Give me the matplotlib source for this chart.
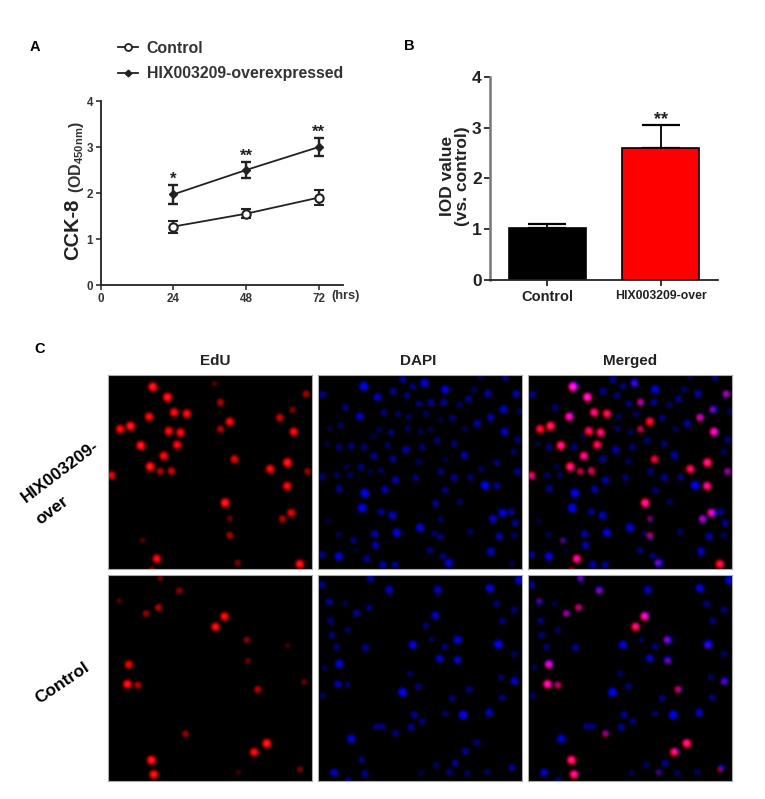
import numpy as np
import matplotlib
matplotlib.use("Agg")
import matplotlib.pyplot as plt
from matplotlib.lines import Line2D

plt.rcParams["font.family"] = ["Liberation Sans", "DejaVu Sans"]
plt.rcParams["font.weight"] = "bold"
plt.rcParams["mathtext.fontset"] = "custom"
plt.rcParams["mathtext.rm"] = "Liberation Sans:bold"
plt.rcParams["mathtext.default"] = "regular"

#panel A
hours = [24, 48, 72]
control_od = [1.27, 1.55, 1.90]
control_err = [0.13, 0.10, 0.17]
over_od = [1.97, 2.50, 3.00]
over_err = [0.20, 0.17, 0.20]
od_stars = ["*", "**", "**"]
hour_ticks = [0, 24, 48, 72]
od_ticks = [0, 1, 2, 3, 4]

#panel B
groups = ["Control", "HIX003209-over"]
iod = [1.02, 2.60]
iod_err = [0.08, 0.44]
bar_colors = ["#000000", "#ff0000"]
iod_ticks = [0, 1, 2, 3, 4]

#panel C, spots: x, y, brightness
columns = ["EdU", "DAPI", "Merged"]
edu_top = [(158,52,1),(202,83,1),(222,128,.9),(260,132,.9),(147,141,.9),(60,178,.9),(91,169,1),
           (206,184,.9),(241,188,.9),(122,227,1),(231,225,.9),(191,258,.9),(150,290,1),(180,304,.6),
           (214,303,.7),(34,316,.8),(361,98,.6),(343,42,.25),(389,156,.9),(361,178,.6),(403,268,.8),
           (375,398,1),(389,445,.35),(389,495,.55),(413,577,.4),(170,565,.9),(127,510,.25),(618,73,.55),
           (577,120,.4),(539,144,.7),(581,186,.9),(562,278,1),(510,297,.9),(622,304,.5),(561,348,.9),
           (573,428,.8),(547,446,.6),(599,581,.95),(155,598,.4)]
dapi_top = [(146,50,1),(263,30,.6),(293,50,.5),(328,40,.9),(390,60,.9),(22,75,.6),(187,82,.8),(234,65,.6),
            (275,78,.5),(477,60,.4),(518,72,.7),(603,73,.7),(570,25,.5),(495,22,.3),(90,113,.5),(311,102,.5),
            (347,98,.6),(386,98,.6),(460,88,.6),(433,105,.4),(565,119,.8),(615,125,.4),(134,140,.8),(206,128,.5),
            (248,132,.4),(280,142,.4),(333,133,.4),(412,145,.5),(526,143,.7),(486,162,.7),(42,175,.25),(77,167,.4),
            (192,180,.35),(228,188,.5),(277,176,.4),(316,186,.35),(346,180,.3),(375,150,.25),(450,178,.35),(568,186,.8),
            (175,200,.3),(366,212,.5),(417,222,.5),(608,210,.5),(35,222,.25),(71,232,.5),(108,228,.5),(147,232,.5),
            (218,225,.4),(272,240,.7),(322,232,.5),(448,256,.7),(596,245,.4),(177,258,.6),(233,267,.6),(310,275,.4),
            (390,268,.3),(545,278,.5),(137,291,.5),(95,290,.3),(65,315,.4),(104,315,.4),(165,305,.3),(198,302,.4),
            (376,305,.5),(498,297,.4),(608,305,.6),(20,320,.5),(241,330,.7),(301,323,.5),(417,323,.6),(466,322,.5),
            (72,356,.6),(149,369,1),(209,358,.7),(390,360,.5),(510,346,1),(545,347,.6),(361,400,.6),(434,395,.4),
            (141,413,1),(198,425,.6),(232,435,.8),(562,428,.9),(587,425,.6),(533,446,.8),(376,447,.4),(40,452,.25),
            (600,458,.6),(314,472,.9),(245,487,.9),(178,491,.7),(358,490,.4),(376,500,.5),(465,484,.4),(552,498,.7),
            (70,493,.35),(115,510,.5),(181,525,.7),(597,495,.4),(344,540,.5),(527,543,.8),(20,553,.6),(71,558,.9),
            (155,565,.6),(383,557,.5),(401,577,.9),(203,583,.7),(240,583,.6),(122,540,.2),(590,580,.3)]
edu_bottom = [(181,22,.35),(237,60,.45),(57,90,.25),(175,110,.6),(138,128,.5),(373,137,.9),(346,168,.9),
              (440,207,.45),(562,225,.2),(443,270,.35),(86,281,.8),(82,340,.95),(113,343,.6),(612,333,.3),
              (473,356,.6),(256,489,.5),(500,518,1),(462,544,.9),(154,568,1),(161,611,.95),(600,596,.4),(415,605,.2)]
dapi_bottom = [(166,22,.7),(20,42,.6),(222,57,.8),(368,57,.8),(524,52,.9),(612,27,.9),(42,93,.6),(90,98,.3),
               (544,99,.5),(162,110,.5),(124,127,.6),(597,117,.5),(360,134,.8),(46,150,.5),(562,150,.5),(332,165,.5),
               (98,177,.4),(50,193,.5),(350,207,.35),(428,207,.9),(293,222,.9),(549,220,1),(64,228,.5),(151,231,.6),
               (389,228,.5),(373,263,.8),(427,267,.8),(597,250,.4),(72,279,.9),(28,290,.35),(285,309,.4),(557,319,.4),
               (598,330,.8),(68,340,.7),(97,341,.4),(310,347,.5),(462,356,.5),(262,364,1),(22,375,.4),(561,380,.5),
               (410,382,.5),(297,432,.6),(390,428,.4),(444,432,1),(522,425,.8),(322,452,.5),(184,467,.5),(202,467,.5),
               (288,469,.6),(242,487,.5),(108,504,.9),(485,515,.5),(451,541,.6),(139,567,.5),(420,577,.6),(364,583,.4),
               (590,590,.6),(57,605,.8),(149,609,.6),(402,604,.5),(456,607,.4),(516,603,.4),(318,607,.3),(100,628,.5)]

W, H = 765, 799
fig = plt.figure(figsize=(W / 100, H / 100), dpi=100, facecolor="white")


def axes_px(left, top, right, bottom):
    return fig.add_axes([left / W, 1 - bottom / H, (right - left) / W, (bottom - top) / H])


def text_px(x, y, s, **kw):
    kw.setdefault("ha", "center")
    kw.setdefault("va", "center")
    fig.text(x / W, 1 - y / H, s, **kw)


def prism_axes(ax, color="#222222", lw=1.3):
    ax.spines["top"].set_visible(False)
    ax.spines["right"].set_visible(False)
    ax.spines["left"].set_color(color)
    ax.spines["bottom"].set_color(color)
    ax.spines["left"].set_linewidth(lw)
    ax.spines["bottom"].set_linewidth(lw)
    ax.patch.set_alpha(0)


#panel A
ax_a = axes_px(100.7, 101, 343, 285)
ax_a.errorbar(hours, control_od, yerr=control_err, color="#222222", lw=1.3, capsize=3.8, capthick=1.7,
              elinewidth=1.7, marker="o", ms=6, mfc="white", mec="#222222", mew=1.5, clip_on=False)
ax_a.errorbar(hours, over_od, yerr=over_err, color="#222222", lw=1.3, capsize=3.8, capthick=1.7,
              elinewidth=1.7, marker="D", ms=3.8, mfc="#222222", mec="#222222", clip_on=False)
for h, v, e, s in zip(hours, over_od, over_err, od_stars):
    ax_a.text(h, v + e - 0.04, s, ha="center", va="bottom", fontsize=12, color="#222222")
ax_a.set_xlim(0, 80)
ax_a.set_ylim(0, 4)
ax_a.set_xticks(hour_ticks)
ax_a.set_yticks(od_ticks)
ax_a.tick_params(axis="both", labelsize=8.4, length=3.5, width=1.1, color="#222222", labelcolor="#333333", pad=2)
prism_axes(ax_a)
text_px(346, 296, "(hrs)", fontsize=9.2, color="#333333")
text_px(73, 229, "CCK-8", fontsize=14.5, rotation=90, color="#222222")
text_px(76, 157, "(OD$_{450nm}$)", fontsize=11.5, rotation=90, color="#333333")
handles = [Line2D([], [], color="#222222", lw=1.3, marker="o", ms=5, mfc="white", mew=1.3),
           Line2D([], [], color="#222222", lw=1.3, marker="D", ms=3.4, mfc="#222222")]
fig.legend(handles, ["Control", "HIX003209-overexpressed"], loc="upper left",
           bbox_to_anchor=(118 / W, 1 - 41 / H), frameon=False, fontsize=11.4, handlelength=1.25,
           handletextpad=0.55, labelspacing=0.64, borderpad=0, borderaxespad=0, labelcolor="#333333")

#panel B
ax_b = axes_px(490, 76.7, 718, 280)
positions = [0, 1]
ax_b.bar(positions, iod, width=0.68, color=bar_colors, edgecolor="black", linewidth=1.2, zorder=2)
ax_b.errorbar(positions, iod, yerr=[[0, 0], iod_err], fmt="none", ecolor="black", elinewidth=1.3,
              capsize=14, capthick=1.6, zorder=1)
ax_b.text(1, iod[1] + iod_err[1] - 0.06, "**", ha="center", va="bottom", fontsize=13, color="#222222")
ax_b.set_xlim(-0.505, 1.505)
ax_b.set_ylim(0, 4)
ax_b.set_xticks(positions)
ax_b.set_xticklabels(groups)
ax_b.set_yticks(iod_ticks)
ax_b.tick_params(axis="x", length=4, width=1.1, pad=3, labelcolor="#222222")
ax_b.tick_params(axis="y", labelsize=12.5, length=4, width=1.1, pad=2, labelcolor="#222222")
for lab, size in zip(ax_b.get_xticklabels(), [10.5, 8.8]):
    lab.set_fontsize(size)
prism_axes(ax_b)
ax_b.spines["left"].set_color("#777777")
ax_b.spines["left"].set_linewidth(1.8)
text_px(455, 176, "IOD value\n(vs. control)", fontsize=12.5, rotation=90, linespacing=1.0,
        color="#222222", multialignment="center")

#panel letters
text_px(35, 47, "A", fontsize=10.5)
text_px(409, 46, "B", fontsize=10.5)
text_px(40, 349, "C", fontsize=10.5)


#panel C
def channel(spots, x0, y0, shape, scale=1.0):
    h, w = shape
    yy, xx = np.mgrid[0:h, 0:w]
    out = np.zeros(shape)
    for x, y, b in spots:
        size = 2.6 + 2.0 * b
        px, py = (x - x0) / 3, (y - y0) / 3
        r = np.sqrt((xx - px) ** 2 + (yy - py) ** 2)
        out += b * scale * np.exp(-(r / size) ** 3)
    return out


def panel_rgb(red, blue):
    g = np.clip(red - 0.95, 0, 1) * 0.5 + np.clip(blue - 0.95, 0, 1) * 0.4
    b = blue + np.clip(red - 0.85, 0, 1) * 0.5
    return np.clip(np.dstack([red, g, b]), 0, 1)


rows = [(375, 569, edu_top, dapi_top, (25, 15), (10, 15)),
        (575, 781, edu_bottom, dapi_bottom, (25, 14), (10, 14))]
lefts = [(108, 312), (318, 522), (528, 732)]
for top, bottom, edu, dapi, o_r, o_b in rows:
    shape = (bottom - top, 204)
    red = channel(edu, o_r[0], o_r[1], shape, 1.15)
    blue = channel(dapi, o_b[0], o_b[1], shape, 0.95)
    empty = np.zeros(shape)
    images = [panel_rgb(red, empty), panel_rgb(empty, blue), panel_rgb(red, blue)]
    for (left, right), img in zip(lefts, images):
        ax = axes_px(left, top, right, bottom)
        ax.imshow(img, aspect="auto", interpolation="bilinear")
        ax.set_xticks([])
        ax.set_yticks([])
        for sp in ax.spines.values():
            sp.set_color("#aaaaaa")
            sp.set_linewidth(0.8)

for x, name in zip([215, 418, 630], columns):
    text_px(x, 361, name, fontsize=11, color="#222222")
text_px(60, 472, "HIX003209-", fontsize=12.5, rotation=37, color="black")
text_px(52, 510, "over", fontsize=12.5, rotation=37, color="black")
text_px(62, 683, "Control", fontsize=12.5, rotation=34, color="black")

fig.savefig("out.png", dpi=100)
